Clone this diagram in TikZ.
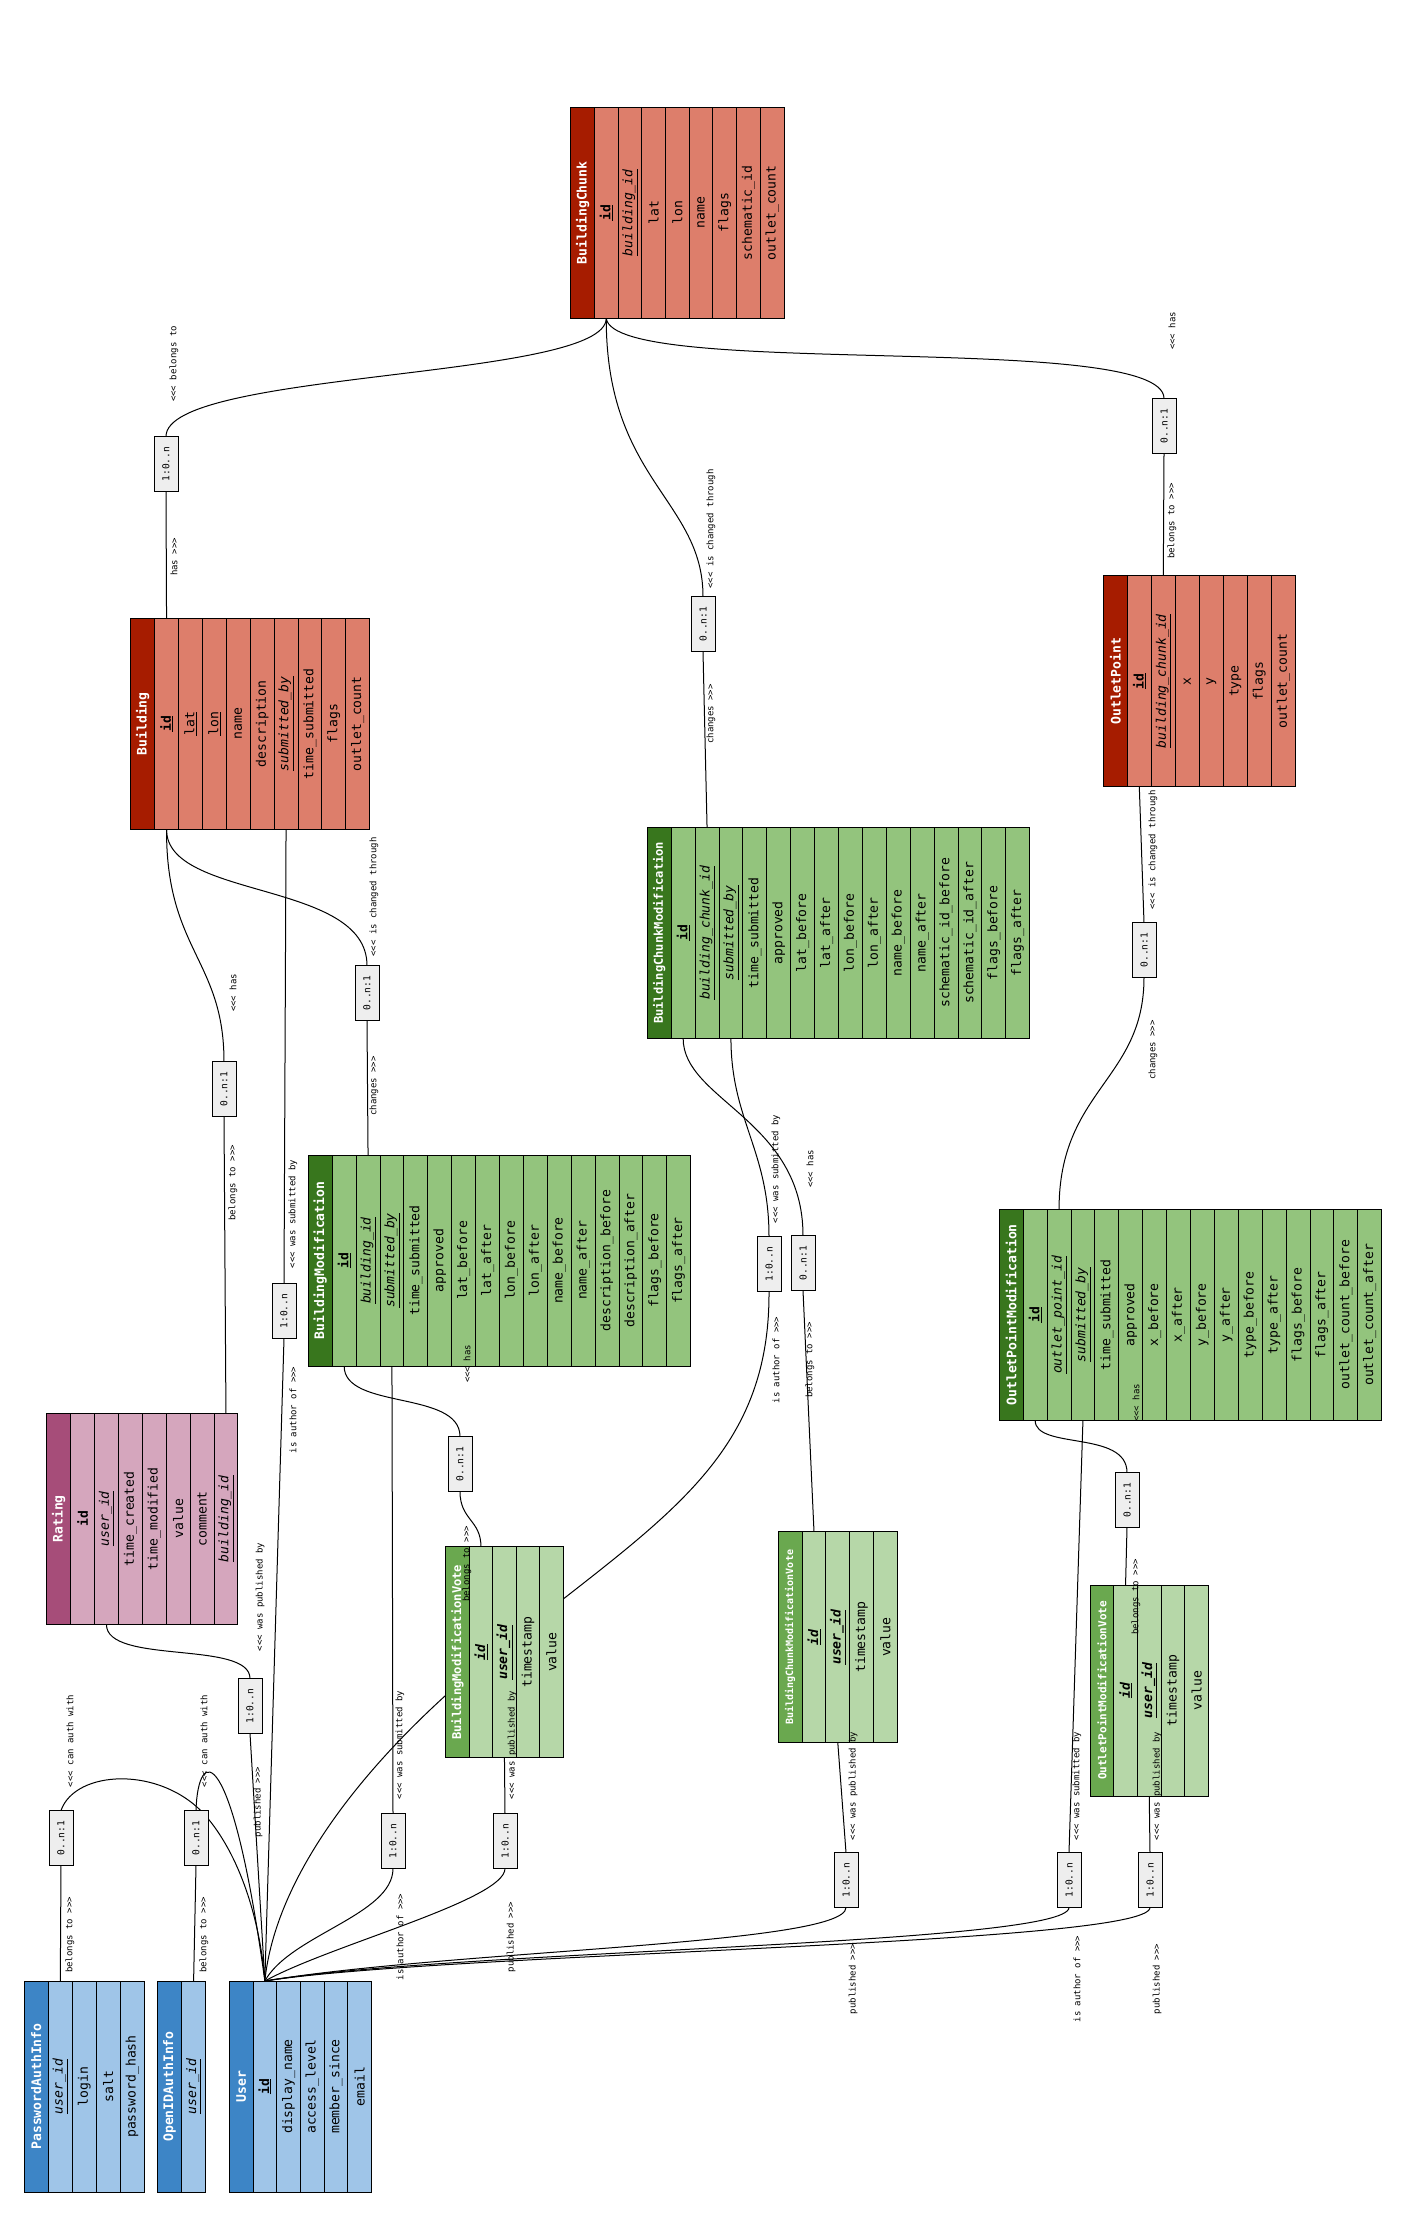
\documentclass[tikz,border=0pt]{standalone}
\usepackage{fontspec}
\setmonofont{DejaVu Sans Mono}
\renewcommand*\familydefault{\ttdefault}
\usetikzlibrary{positioning,backgrounds}

\definecolor{redhead}{HTML}{A61C00}
\definecolor{redcell}{HTML}{DD7E6B}
\definecolor{greenhead}{HTML}{38761D}
\definecolor{greencell}{HTML}{93C47D}
\definecolor{votehead}{HTML}{6AA84F}
\definecolor{votecell}{HTML}{B6D7A8}
\definecolor{bluehead}{HTML}{3D85C6}
\definecolor{bluecell}{HTML}{9FC5E8}
\definecolor{pinkhead}{HTML}{A64D79}
\definecolor{pinkcell}{HTML}{D5A6BD}
\definecolor{cardfill}{HTML}{EEEEEE}

\newcommand\fieldfont{\fontsize{13.1}{15}\selectfont}
\newcommand\relfont{\fontsize{9}{10}\selectfont}
\newcommand\cardfont{\fontsize{9.6}{10}\selectfont}

% key markers
\newcommand\pk[1]{\textbf{\underline{#1}}}
\newcommand\fk[1]{\textit{\underline{#1}}}
\newcommand\uk[1]{\underline{#1}}
\newcommand\vk[1]{\textbf{\textit{\underline{#1}}}}

\tikzset{
  tblhead/.style={draw, line width=0.9pt, outer sep=0pt, anchor=north west, minimum height=211,
    inner sep=0pt, text=white, font=\fieldfont\bfseries},
  tblcell/.style={draw, line width=0.9pt, outer sep=0pt, minimum height=211, inner sep=0pt, font=\fieldfont},
  card/.style={draw, line width=0.8pt, outer sep=0pt, fill=cardfill, minimum width=24, minimum height=55,
    inner sep=0pt, font=\cardfont},
  rel/.style={inner sep=0pt, font=\relfont},
  link/.style={draw, line width=1pt}
}

% table: name, north west corner, cell width, head colour, cell colour, title, fields
\newcommand\ertable[7]{%
  \node[tblhead, minimum width=#3, fill=#4] (#1-0) at #2 {\rotatebox{90}{#6}};
  \foreach \f [count=\i, remember=\i as \j (initially 0)] in {#7}
    \node[tblcell, minimum width=#3, fill=#5, right=0pt of #1-\j] (#1-\i) {\rotatebox{90}{\f}};
}

\begin{document}
\begin{tikzpicture}[x=1pt,y=-1pt]
  \useasboundingbox (0,0) rectangle (1400,2240);

  % tables
  \ertable{bc}{(570.7,107.3)}{23.7}{redhead}{redcell}{BuildingChunk}
    {\pk{id},\fk{building\_id},lat,lon,name,flags,schematic\_id,outlet\_count}
  \ertable{bld}{(130.7,618.3)}{23.9}{redhead}{redcell}{Building}
    {\pk{id},\uk{lat},\uk{lon},name,description,\fk{submitted\_by},time\_submitted,flags,outlet\_count}
  \ertable{op}{(1103.3,575.7)}{24}{redhead}{redcell}{OutletPoint}
    {\pk{id},\fk{building\_chunk\_id},x,y,type,flags,outlet\_count}
  \ertable{bcm}{(647.3,827.3)}{23.9}{greenhead}{greencell}{{\fontsize{12.1}{12}\selectfont BuildingChunkModification}}
    {\pk{id},\fk{building\_chunk\_id},\fk{submitted\_by},time\_submitted,approved,lat\_before,lat\_after,lon\_before,lon\_after,name\_before,name\_after,schematic\_id\_before,schematic\_id\_after,flags\_before,flags\_after}
  \ertable{bm}{(308.3,1155)}{23.9}{greenhead}{greencell}{BuildingModification}
    {\pk{id},\fk{building\_id},\fk{submitted\_by},time\_submitted,approved,lat\_before,lat\_after,lon\_before,lon\_after,name\_before,name\_after,description\_before,description\_after,flags\_before,flags\_after}
  \ertable{opm}{(999.3,1209.3)}{23.9}{greenhead}{greencell}{OutletPointModification}
    {\pk{id},\fk{outlet\_point\_id},\fk{submitted\_by},time\_submitted,approved,x\_before,x\_after,y\_before,y\_after,type\_before,type\_after,flags\_before,flags\_after,outlet\_count\_before,outlet\_count\_after}
  \ertable{rating}{(46.7,1413.3)}{23.9}{pinkhead}{pinkcell}{Rating}
    {\textbf{id},\fk{user\_id},time\_created,time\_modified,value,comment,\fk{building\_id}}
  \ertable{bmv}{(445.7,1546.7)}{23.5}{votehead}{votecell}{{\fontsize{12.1}{12}\selectfont BuildingModificationVote}}
    {\vk{id},\vk{user\_id},timestamp,value}
  \ertable{bcmv}{(778.3,1531.7)}{23.8}{votehead}{votecell}{{\fontsize{10}{10}\selectfont BuildingChunkModificationVote}}
    {\vk{id},\vk{user\_id},timestamp,value}
  \ertable{opmv}{(1090,1585)}{23.7}{votehead}{votecell}{{\fontsize{11}{11}\selectfont OutletPointModificationVote}}
    {\vk{id},\vk{user\_id},timestamp,value}
  \ertable{pai}{(24.3,1981)}{24}{bluehead}{bluecell}{PasswordAuthInfo}
    {\fk{user\_id},login,salt,password\_hash}
  \ertable{oid}{(157.3,1981)}{24.2}{bluehead}{bluecell}{OpenIDAuthInfo}
    {\fk{user\_id}}
  \ertable{user}{(229.3,1981)}{23.7}{bluehead}{bluecell}{User}
    {\pk{id},display\_name,access\_level,member\_since,email}

  % cardinality cards
  \node[card] (c1) at (166,464) {\rotatebox{90}{1:0..n}};
  \node[card] (c2) at (1164,426) {\rotatebox{90}{0..n:1}};
  \node[card] (c3) at (703,624) {\rotatebox{90}{0..n:1}};
  \node[card] (c4) at (367,993) {\rotatebox{90}{0..n:1}};
  \node[card] (c5) at (224,1089) {\rotatebox{90}{0..n:1}};
  \node[card] (c6) at (284,1311) {\rotatebox{90}{1:0..n}};
  \node[card] (c7) at (250,1706) {\rotatebox{90}{1:0..n}};
  \node[card] (c8) at (61,1838) {\rotatebox{90}{0..n:1}};
  \node[card] (c9) at (196,1838) {\rotatebox{90}{0..n:1}};
  \node[card] (c10) at (460,1464) {\rotatebox{90}{0..n:1}};
  \node[card] (c11) at (393,1841) {\rotatebox{90}{1:0..n}};
  \node[card] (c12) at (505,1841) {\rotatebox{90}{1:0..n}};
  \node[card] (c13) at (803,1263) {\rotatebox{90}{0..n:1}};
  \node[card] (c14) at (769,1264) {\rotatebox{90}{1:0..n}};
  \node[card] (c15) at (846,1880) {\rotatebox{90}{1:0..n}};
  \node[card] (c16) at (1144,950) {\rotatebox{90}{0..n:1}};
  \node[card] (c17) at (1127,1500) {\rotatebox{90}{0..n:1}};
  \node[card] (c18) at (1069,1880) {\rotatebox{90}{1:0..n}};
  \node[card] (c19) at (1150,1880) {\rotatebox{90}{1:0..n}};

  % relation names
  \node[rel] (r1a) at (174,364) {\rotatebox{90}{<<< belongs to}};
  \node[rel] (r1b) at (174,557) {\rotatebox{90}{has >>>}};
  \node[rel] (r2a) at (1172,331) {\rotatebox{90}{<<< has}};
  \node[rel] (r2b) at (1172,521) {\rotatebox{90}{belongs to >>>}};
  \node[rel] (r3a) at (711,529) {\rotatebox{90}{<<< is changed through}};
  \node[rel] (r3b) at (711,714) {\rotatebox{90}{changes >>>}};
  \node[rel] (r4a) at (374,897) {\rotatebox{90}{<<< is changed through}};
  \node[rel] (r4b) at (374,1086) {\rotatebox{90}{changes >>>}};
  \node[rel] (r5a) at (233,993) {\rotatebox{90}{<<< has}};
  \node[rel] (r5b) at (233,1183) {\rotatebox{90}{belongs to >>>}};
  \node[rel] (r6a) at (293,1214) {\rotatebox{90}{<<< was submitted by}};
  \node[rel] (r6b) at (293,1410) {\rotatebox{90}{is author of >>>}};
  \node[rel] (r7a) at (260,1597) {\rotatebox{90}{<<< was published by}};
  \node[rel] (r7b) at (258,1802) {\rotatebox{90}{published >>>}};
  \node[rel] (r8a) at (70,1741) {\rotatebox{90}{<<< can auth with}};
  \node[rel] (r8b) at (70,1935) {\rotatebox{90}{belongs to >>>}};
  \node[rel] (r9a) at (204,1741) {\rotatebox{90}{<<< can auth with}};
  \node[rel] (r9b) at (204,1935) {\rotatebox{90}{belongs to >>>}};
  \node[rel] (r10a) at (467,1364) {\rotatebox{90}{<<< has}};
  \node[rel] (r10b) at (467,1564) {\rotatebox{90}{belongs to >>>}};
  \node[rel] (r11a) at (400,1745) {\rotatebox{90}{<<< was submitted by}};
  \node[rel] (r11b) at (400,1937) {\rotatebox{90}{is author of >>>}};
  \node[rel] (r12a) at (512,1745) {\rotatebox{90}{<<< was published by}};
  \node[rel] (r12b) at (511,1937) {\rotatebox{90}{published >>>}};
  \node[rel] (r13a) at (810,1169) {\rotatebox{90}{<<< has}};
  \node[rel] (r13b) at (810,1360) {\rotatebox{90}{belongs to >>>}};
  \node[rel] (r14a) at (776,1169) {\rotatebox{90}{<<< was submitted by}};
  \node[rel] (r14b) at (776,1360) {\rotatebox{90}{is author of >>>}};
  \node[rel] (r15a) at (853,1786) {\rotatebox{90}{<<< was published by}};
  \node[rel] (r15b) at (853,1979) {\rotatebox{90}{published >>>}};
  \node[rel] (r16a) at (1153,850) {\rotatebox{90}{<<< is changed through}};
  \node[rel] (r16b) at (1153,1050) {\rotatebox{90}{changes >>>}};
  \node[rel] (r17a) at (1136,1403) {\rotatebox{90}{<<< has}};
  \node[rel] (r17b) at (1136,1597) {\rotatebox{90}{belongs to >>>}};
  \node[rel] (r18a) at (1077,1786) {\rotatebox{90}{<<< was submitted by}};
  \node[rel] (r18b) at (1077,1979) {\rotatebox{90}{is author of >>>}};
  \node[rel] (r19a) at (1157,1786) {\rotatebox{90}{<<< was published by}};
  \node[rel] (r19b) at (1157,1979) {\rotatebox{90}{published >>>}};

  % connectors, under the tables
  \begin{scope}[on background layer]
    \path[link] (bc-1.south) .. controls (606,380) and (166,370) .. (c1.north);
    \path[link] (c1.south) -- (bld-1.north);
    \path[link] (bc-1.south) .. controls (614,380) and (1164,330) .. (c2.north);
    \path[link] (c2.south) -- (op-2.north);
    \path[link] (bc-1.south) .. controls (606,480) and (703,500) .. (c3.north);
    \path[link] (c3.south) -- (bcm-2.north);

    \path[link] (bld-1.south) .. controls (166,900) and (367,880) .. (c4.north);
    \path[link] (c4.south) -- (bm-2.north);
    \path[link] (bld-1.south) .. controls (166,950) and (224,960) .. (c5.north);
    \path[link] (c5.south) -- (rating-7.north);
    \path[link] (bld-6.south) -- (c6.north);
    \path[link] (c6.south) -- (user-1.north);

    \path[link] (rating-2.south) .. controls (106,1665) and (250,1640) .. (c7.north);
    \path[link] (c7.south) -- (user-1.north);
    \path[link] (pai-1.north) -- (c8.south);
    \path[link] (c8.north) .. controls (75,1770) and (160,1765) .. (205,1815)
      .. controls (240,1855) and (260,1920) .. (user-1.north);
    \path[link] (oid-1.north) -- (c9.south);
    \path[link] (c9.north) .. controls (198,1745) and (232,1740) .. (user-1.north);

    \path[link] (bm-1.south) .. controls (344,1410) and (460,1390) .. (c10.north);
    \path[link] (c10.south) .. controls (460,1520) and (481,1520) .. (bmv-1.north);
    \path[link] (bm-3.south) -- (c11.north);
    \path[link] (c11.south) .. controls (393,1915) and (290,1935) .. (user-1.north);
    \path[link] (bmv-2.south) -- (c12.north);
    \path[link] (c12.south) .. controls (505,1900) and (330,1945) .. (user-1.north);

    \path[link] (bcm-1.south) .. controls (683,1100) and (803,1120) .. (c13.north);
    \path[link] (c13.south) -- (bcmv-1.north);
    \path[link] (bcm-3.south) .. controls (731,1120) and (769,1150) .. (c14.north);
    \path[link] (c14.south) .. controls (770,1460) and (660,1520) .. (505,1645)
      .. controls (360,1760) and (275,1880) .. (user-1.north);
    \path[link] (bcmv-2.south) -- (c15.north);
    \path[link] (c15.south) .. controls (846,1945) and (450,1950) .. (user-1.north);

    \path[link] (op-1.south) -- (c16.north);
    \path[link] (c16.south) .. controls (1144,1080) and (1059,1090) .. (opm-2.north);
    \path[link] (opm-1.south) .. controls (1035,1450) and (1127,1430) .. (c17.north);
    \path[link] (c17.south) -- (opmv-1.north);
    \path[link] (opm-3.south) -- (c18.north);
    \path[link] (c18.south) .. controls (1069,1945) and (450,1950) .. (user-1.north);
    \path[link] (opmv-2.south) -- (c19.north);
    \path[link] (c19.south) .. controls (1150,1945) and (450,1952) .. (user-1.north);
  \end{scope}
\end{tikzpicture}
\end{document}
